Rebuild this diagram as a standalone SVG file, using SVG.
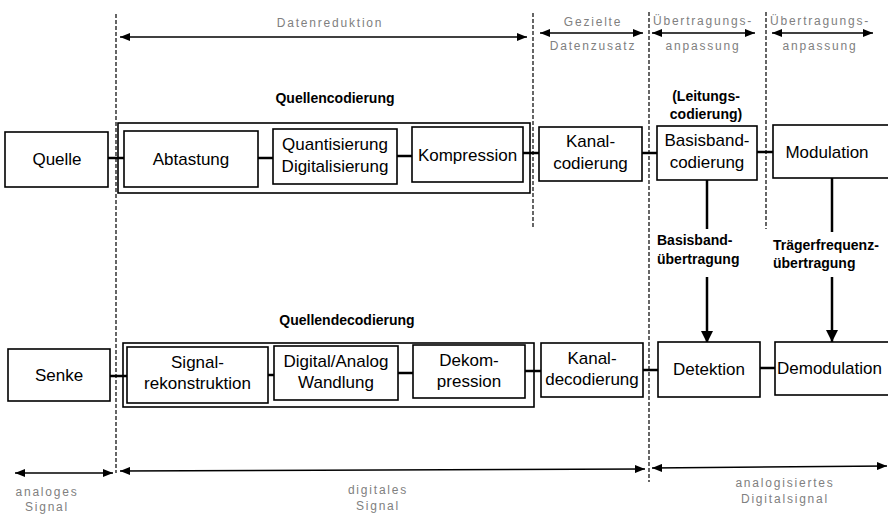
<svg xmlns="http://www.w3.org/2000/svg" width="888" height="518" viewBox="0 0 888 518">
<defs>
<marker id="ah" viewBox="0 0 10 8" refX="10" refY="4" markerWidth="10" markerHeight="8" markerUnits="userSpaceOnUse" orient="auto-start-reverse">
<path d="M0,0 L10,4 L0,8 Z" fill="#000"/>
</marker>
<marker id="ahv" viewBox="0 0 12 12" refX="12" refY="6" markerWidth="12" markerHeight="12" markerUnits="userSpaceOnUse" orient="auto">
<path d="M0,0 L12,6 L0,12 Z" fill="#000"/>
</marker>
</defs>
<style>
.box{fill:#fff;stroke:#000;stroke-width:1.6}
.frame{fill:none;stroke:#000;stroke-width:1.6}
.t{font-family:"Liberation Sans",Arial,sans-serif;font-size:17px;fill:#000;text-anchor:middle}
.ts{text-anchor:start}
.b{font-family:"Liberation Sans",Arial,sans-serif;font-size:14px;font-weight:bold;fill:#000}
.g{font-family:"Liberation Sans",Arial,sans-serif;font-size:12px;fill:#808080;text-anchor:middle;letter-spacing:1.8px}
.dash{stroke:#000;stroke-width:1.2;stroke-dasharray:4 2;fill:none}
.con{stroke:#000;stroke-width:2.5;fill:none}
.arr{stroke:#000;stroke-width:1.6;fill:none;marker-start:url(#ah);marker-end:url(#ah)}
.varr{stroke:#000;stroke-width:2.5;fill:none}
</style>
<rect width="888" height="518" fill="#fff"/>

<g id="dividers">
<line class="dash" x1="116" y1="14" x2="116" y2="473"/>
<line class="dash" x1="533" y1="13" x2="533" y2="228"/>
<line class="dash" x1="649" y1="12" x2="649" y2="482"/>
<line class="dash" x1="766" y1="12" x2="766" y2="229"/>
</g>

<g id="top-labels">
<line class="arr" x1="120" y1="37" x2="527" y2="37"/>
<text class="g" x="330" y="27">Datenreduktion</text>
<line class="arr" x1="540" y1="33" x2="643" y2="33"/>
<text class="g" x="593" y="26">Gezielte</text>
<text class="g" x="593" y="50">Datenzusatz</text>
<line class="arr" x1="652" y1="33" x2="755" y2="33"/>
<text class="g" x="703" y="25">Übertragungs-</text>
<text class="g" x="703" y="50">anpassung</text>
<line class="arr" x1="772" y1="33" x2="873" y2="33"/>
<text class="g" x="820" y="25">Übertragungs-</text>
<text class="g" x="820" y="50">anpassung</text>
</g>

<g id="bottom-labels">
<line class="arr" x1="15" y1="473" x2="113" y2="473"/>
<text class="g" x="47" y="496">analoges</text>
<text class="g" x="47" y="511">Signal</text>
<line class="arr" x1="120" y1="471" x2="645" y2="469"/>
<text class="g" x="378" y="494">digitales</text>
<text class="g" x="378" y="510">Signal</text>
<line class="arr" x1="652" y1="468" x2="887" y2="466"/>
<text class="g" x="785" y="487">analogisiertes</text>
<text class="g" x="785" y="503">Digitalsignal</text>
</g>

<g id="connectors">
<line class="con" x1="108" y1="158" x2="124" y2="158"/>
<line class="con" x1="258" y1="158" x2="273" y2="158"/>
<line class="con" x1="397" y1="156" x2="412" y2="156"/>
<line class="con" x1="523" y1="153" x2="539" y2="153"/>
<line class="con" x1="642" y1="153" x2="657" y2="153"/>
<line class="con" x1="757" y1="152" x2="773" y2="152"/>
<line class="con" x1="110" y1="376" x2="127" y2="376"/>
<line class="con" x1="268" y1="375" x2="274" y2="375"/>
<line class="con" x1="398" y1="373" x2="413" y2="373"/>
<line class="con" x1="525" y1="371" x2="541" y2="371"/>
<line class="con" x1="643" y1="370" x2="658" y2="370"/>
<line class="con" x1="760" y1="368" x2="775" y2="368"/>
<line class="varr" x1="707" y1="180" x2="707" y2="229"/>
<line class="varr" x1="707" y1="277" x2="707" y2="343" marker-end="url(#ahv)"/>
<line class="varr" x1="832" y1="178" x2="832" y2="232"/>
<line class="varr" x1="832" y1="277" x2="832" y2="342" marker-end="url(#ahv)"/>
</g>

<g id="quellencodierung">
<rect class="frame" x="118" y="123" width="412" height="70"/>
<text class="b" x="335" y="103" text-anchor="middle">Quellencodierung</text>
</g>
<g id="quellendecodierung">
<rect class="frame" x="123" y="343" width="411" height="64"/>
<text class="b" x="347" y="325" text-anchor="middle">Quellendecodierung</text>
</g>

<g id="quelle"><rect class="box" x="5" y="132" width="103" height="55"/><text class="t" x="57" y="165">Quelle</text></g>
<g id="abtastung"><rect class="box" x="124" y="131" width="134" height="56"/><text class="t" x="191" y="165">Abtastung</text></g>
<g id="quantisierung"><rect class="box" x="273" y="129" width="124" height="55"/><text class="t" x="335" y="150">Quantisierung</text><text class="t" x="335" y="172">Digitalisierung</text></g>
<g id="kompression"><rect class="box" x="412" y="127" width="111" height="55"/><text class="t" x="467.5" y="161">Kompression</text></g>
<g id="kanalcodierung"><rect class="box" x="539" y="127" width="103" height="54"/><text class="t" x="590.5" y="147">Kanal-</text><text class="t" x="590.5" y="169">codierung</text></g>
<g id="basisbandcodierung"><rect class="box" x="657" y="126" width="100" height="54"/><text class="t" x="707" y="146">Basisband-</text><text class="t" x="707" y="168">codierung</text>
<text class="b" x="706" y="101" text-anchor="middle">(Leitungs-</text><text class="b" x="706" y="119" text-anchor="middle">codierung)</text></g>
<g id="modulation"><rect class="box" x="773" y="125" width="120" height="53"/><text class="t" x="827" y="158">Modulation</text></g>

<g id="basisbanduebertragung"><text class="b" x="657" y="245">Basisband-</text><text class="b" x="657" y="264">übertragung</text></g>
<g id="traegerfrequenzuebertragung"><text class="b" x="773" y="250">Trägerfrequenz-</text><text class="b" x="773" y="268">übertragung</text></g>

<g id="senke"><rect class="box" x="8" y="349" width="102" height="52"/><text class="t" x="59" y="381">Senke</text></g>
<g id="signalrekonstruktion"><rect class="box" x="127" y="347" width="141" height="56"/><text class="t" x="197.5" y="368">Signal-</text><text class="t" x="197.5" y="389">rekonstruktion</text></g>
<g id="dawandlung"><rect class="box" x="274" y="346" width="124" height="54"/><text class="t" x="336" y="367">Digital/Analog</text><text class="t" x="336" y="388">Wandlung</text></g>
<g id="dekompression"><rect class="box" x="413" y="345" width="112" height="53"/><text class="t" x="469" y="366">Dekom-</text><text class="t" x="469" y="387">pression</text></g>
<g id="kanaldecodierung"><rect class="box" x="541" y="343" width="102" height="54"/><text class="t" x="592" y="364">Kanal-</text><text class="t" x="592" y="385">decodierung</text></g>
<g id="detektion"><rect class="box" x="658" y="342" width="102" height="55"/><text class="t" x="709" y="375">Detektion</text></g>
<g id="demodulation"><rect class="box" x="775" y="342" width="120" height="53"/><text class="t ts" x="777" y="374">Demodulation</text></g>
</svg>
